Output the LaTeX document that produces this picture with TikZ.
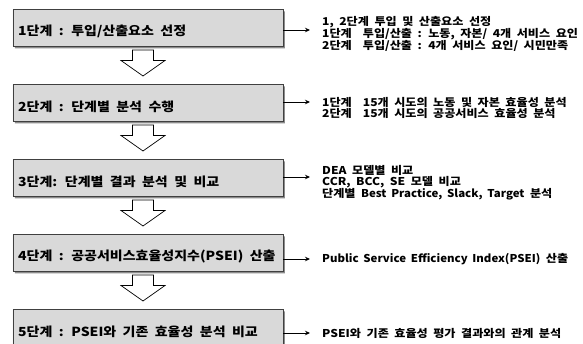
\documentclass[tikz,border=0pt]{standalone}
\usepackage{fontspec}
\newfontfamily\krfont{Noto Sans CJK KR}[FakeStretch=1.12,WordSpace=1.5]
\newfontfamily\krnote{Noto Sans CJK KR}[FakeStretch=1.12,WordSpace=2.0]
\newfontfamily\krlatin{Noto Sans CJK KR}[FakeStretch=1.06,WordSpace=1.8]
\newcommand{\en}[1]{{\krlatin\bfseries #1}}
\usepackage{tikz}
\usetikzlibrary{arrows.meta}
\usetikzlibrary{calc}
\usetikzlibrary{shapes.misc}
\usetikzlibrary{shadows}
\definecolor{step-gray}{HTML}{D9D9D9}
\definecolor{step-line}{HTML}{404040}
\definecolor{shadow-gray}{HTML}{8C8C8C}

\begin{document}
\begin{tikzpicture}[x=1pt,y=-1pt,
		stepbox/.style={chamfered rectangle, chamfered rectangle corners=north east,
			chamfered rectangle angle=45, chamfered rectangle xsep=7pt,
			draw=step-line, fill=step-gray, line width=0.7pt,
			minimum width=270pt, minimum height=37pt, inner sep=0pt, anchor=north west,
			drop shadow={shadow xshift=2pt, shadow yshift=-2pt, fill=shadow-gray, opacity=1}},
		steptext/.style={anchor=west, inner sep=0pt, font=\krfont\bfseries\fontsize{12.5}{14}\selectfont},
		notetext/.style={anchor=west, align=left, inner sep=0pt, font=\krnote\bfseries\fontsize{10.8}{11.6}\selectfont},
		link/.style={-{Stealth[length=5pt,width=4.5pt]}, line width=0.9pt},
		downarrow/.style={draw=black, fill=white, line width=0.7pt}]
		
		\useasboundingbox (0,0) rectangle (583,343);
		
		%--- STEP BOXES -------------------------
		
		\node[stepbox] (b1) at (12.5,9) {};
		\node[stepbox] (b2) at (12.5,84) {};
		\node[stepbox] (b3) at (12.5,159) {};
		\node[stepbox] (b4) at (12.5,234) {};
		\node[stepbox] (b5) at (12.5,309) {};
		
		% Step titles
		\node[steptext] (s1) at ($(b1.west)+(5.5,4)$) {1단계 : 투입/산출요소 선정};
		\node[steptext] (s2) at ($(b2.west)+(5.5,4)$) {2단계 : 단계별 분석 수행};
		\node[steptext] (s3) at ($(b3.west)+(5.5,4)$) {3단계: 단계별 결과 분석 및 비교};
		\node[steptext] (s4) at ($(b4.west)+(5.5,4)$) {4단계 : 공공서비스효율성지수(PSEI) 산출};
		\node[steptext] (s5) at ($(b5.west)+(5.5,4)$) {5단계 : PSEI와 기존 효율성 분석 비교};
		
		%--- BIG DOWN ARROWS --------------------
		
		\foreach \i in {1,...,4}{
			\pgfmathsetmacro\ytop{50+75*(\i-1)}
			\draw[downarrow] (132.5,\ytop) -- ++(21,0) -- ++(0,10.5) -- ++(11.5,0)
				-- ++(-22,15.5) -- ++(-22,-15.5) -- ++(11.5,0) -- cycle;
		}
		
		%--- NOTES AND SMALL ARROWS -------------
		
		% Notes
		\node[notetext] (n1) at (322,34) {1, 2단계 투입 및 산출요소 선정\\1단계~~투입/산출 : 노동, 자본/ 4개 서비스 요인\\2단계~~투입/산출 : 4개 서비스 요인/ 시민만족};
		\node[notetext] (n2) at (322,108) {1단계~~15개 시도의 노동 및 자본 효율성 분석\\2단계~~15개 시도의 공공서비스 효율성 분석};
		\node[notetext] (n3) at (322,182.5) {DEA 모델별 비교\\CCR, BCC, SE 모델 비교\\단계별 \en{Best Practice, Slack, Target} 분석};
		\node[notetext] (n4) at (322,259) {\en{Public Service Efficiency Index(PSEI)} 산출};
		\node[notetext] (n5) at (322,333) {PSEI와 기존 효율성 평가 결과와의 관계 분석};
		
		% Arrow ends
		\coordinate (e1) at (310,30);
		\coordinate (e2) at (310,102);
		\coordinate (e3) at (310,177);
		\coordinate (e4) at (310,259);
		\coordinate (e5) at (310,333);
		
		% Arrows
		\foreach \i in {1,...,5}{
			\draw[link] (e\i -| b\i.east) -- (e\i);
		}
		
\end{tikzpicture}
\end{document}
